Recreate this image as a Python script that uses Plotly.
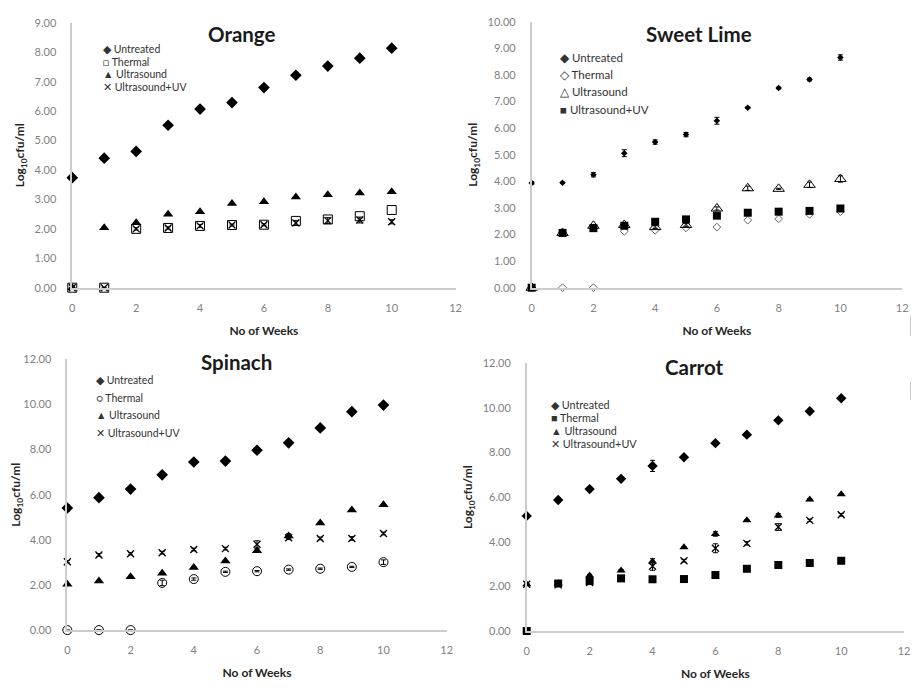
import plotly.graph_objects as go

weeks = list(range(11))

# ---- Orange ----
orange_untreated = [3.74, 4.40, 4.63, 5.52, 6.07, 6.29, 6.80, 7.22, 7.53, 7.80, 8.14]
orange_thermal = [0, 0, 2.00, 2.03, 2.10, 2.13, 2.14, 2.27, 2.32, 2.43, 2.64]
orange_ultrasound = [0, 2.04, 2.21, 2.50, 2.58, 2.86, 2.92, 3.08, 3.16, 3.22, 3.26]
orange_us_uv = [0, 0, 2.00, 2.03, 2.10, 2.13, 2.14, 2.20, 2.28, 2.30, 2.24]
orange_us_uv_err = [0, 0, 0.04, 0.04, 0.05, 0.03, 0.03, 0.08, 0.10, 0.10, 0.07]

# ---- Sweet Lime ----
lime_untreated = [3.94, 3.95, 4.25, 5.06, 5.48, 5.76, 6.28, 6.77, 7.51, 7.83, 8.66]
lime_untreated_err = [0.06, 0.02, 0.08, 0.13, 0.08, 0.08, 0.13, 0.03, 0.03, 0.05, 0.10]
lime_thermal = [0, 0, 0, 2.12, 2.16, 2.25, 2.28, 2.54, 2.59, 2.76, 2.86]
lime_ultrasound = [0, 2.06, 2.33, 2.36, 2.28, 2.36, 2.98, 3.74, 3.72, 3.87, 4.09]
lime_ultrasound_err = [0, 0.03, 0.05, 0.05, 0.05, 0.05, 0.06, 0.08, 0.02, 0.10, 0.12]
lime_us_uv = [0, 2.06, 2.24, 2.33, 2.48, 2.57, 2.71, 2.82, 2.86, 2.89, 2.98]

# ---- Spinach ----
spinach_untreated = [5.41, 5.87, 6.25, 6.88, 7.45, 7.49, 7.97, 8.30, 8.96, 9.68, 9.97]
spinach_untreated_err = [0.15, 0.04, 0.04, 0.08, 0.04, 0.04, 0.10, 0.04, 0.04, 0.04, 0.04]
spinach_thermal = [0, 0, 0, 2.09, 2.26, 2.58, 2.61, 2.68, 2.72, 2.80, 3.01]
spinach_thermal_err = [0, 0, 0, 0.12, 0.05, 0.03, 0.03, 0.03, 0.03, 0.03, 0.10]
spinach_ultrasound = [2.03, 2.17, 2.36, 2.52, 2.77, 3.06, 3.52, 4.17, 4.75, 5.32, 5.55]
spinach_ultrasound_err = [0.03, 0.03, 0.03, 0.03, 0.03, 0.03, 0.08, 0.10, 0.03, 0.03, 0.03]
spinach_us_uv = [3.03, 3.33, 3.38, 3.43, 3.57, 3.61, 3.80, 4.09, 4.06, 4.06, 4.28]
spinach_us_uv_err = [0.05, 0.06, 0.05, 0.06, 0.06, 0.06, 0.16, 0.08, 0.06, 0.08, 0.06]

# ---- Carrot ----
carrot_untreated = [5.16, 5.87, 6.36, 6.82, 7.40, 7.79, 8.42, 8.80, 9.44, 9.85, 10.43]
carrot_untreated_err = [0.04, 0.10, 0.06, 0.04, 0.25, 0.04, 0.04, 0.04, 0.04, 0.04, 0.04]
carrot_thermal = [0, 2.13, 2.24, 2.36, 2.32, 2.33, 2.51, 2.79, 2.96, 3.05, 3.15]
carrot_thermal_err = [0, 0.03, 0.03, 0.05, 0.03, 0.10, 0.03, 0.03, 0.03, 0.03, 0.03]
carrot_ultrasound = [2.10, 2.14, 2.49, 2.71, 3.12, 3.75, 4.35, 4.96, 5.18, 5.89, 6.13]
carrot_ultrasound_err = [0.03, 0.03, 0.05, 0.05, 0.12, 0.03, 0.10, 0.03, 0.08, 0.05, 0.03]
carrot_us_uv = [2.10, 2.07, 2.17, 2.36, 2.90, 3.15, 3.71, 3.93, 4.66, 4.96, 5.21]
carrot_us_uv_err = [0.03, 0.05, 0.05, 0.05, 0.18, 0.06, 0.20, 0.08, 0.15, 0.06, 0.06]

series_names = ["Untreated", "Thermal", "Ultrasound", "Ultrasound+UV"]
panel_titles = ["Orange", "Sweet Lime", "Spinach", "Carrot"]
y_max = [9, 10, 12, 12]
y_dtick = [1, 1, 2, 2]
x_ticks = [0, 2, 4, 6, 8, 10, 12]

# the page body has an 8px default margin: shrink the figure and shift by it
OFF = 8
W, H = 919 - OFF, 691 - OFF
FONT = "Lato"


def px_x(p):
    return (p - OFF) / W


def px_y(p):
    return 1 - (p - OFF) / H


# (left, right, top, bottom) pixel boxes of each plot area in the window
boxes = [(68, 456, 16, 286), (533, 908, 15, 286), (63, 447, 359, 635), (528, 910, 363, 636)]

panels = [
    [  # Orange
        (orange_untreated, None, "diamond", 9, "black"),
        (orange_thermal, None, "square-open", 9, "black"),
        (orange_ultrasound, None, "triangle-up", 9, "black"),
        (orange_us_uv, orange_us_uv_err, "x-thin-open", 7, "black"),
    ],
    [  # Sweet lime
        (lime_untreated, lime_untreated_err, "diamond", 5, "black"),
        (lime_thermal, None, "diamond-open", 6, "#666666"),
        (lime_ultrasound, lime_ultrasound_err, "triangle-up-open", 10, "black"),
        (lime_us_uv, None, "square", 8, "black"),
    ],
    [  # Spinach
        (spinach_untreated, spinach_untreated_err, "diamond", 9, "black"),
        (spinach_thermal, spinach_thermal_err, "circle-open", 9, "black"),
        (spinach_ultrasound, spinach_ultrasound_err, "triangle-up", 9, "black"),
        (spinach_us_uv, spinach_us_uv_err, "x-thin-open", 7, "black"),
    ],
    [  # Carrot
        (carrot_untreated, carrot_untreated_err, "diamond", 8, "black"),
        (carrot_thermal, carrot_thermal_err, "square", 8, "black"),
        (carrot_ultrasound, carrot_ultrasound_err, "triangle-up", 8, "black"),
        (carrot_us_uv, carrot_us_uv_err, "x-thin-open", 7, "black"),
    ],
]

legend_glyphs = [
    ["◆", "□", "▲", "✕"],
    ["◆", "◇", "△", "■"],
    ["◆", "○", "▲", "✕"],
    ["◆", "■", "▲", "✕"],
]
# legend placement: left px, first-line y px, line spacing px, font size
legend_layout = [
    (97, 43, 12.7, 10.5),
    (560, 51, 17.7, 11.5),
    (90, 380, 18, 10.5),
    (551, 405, 13.4, 10.8),
]
title_centers = [(240, 27), (702, 27), (234, 362), (698, 367)]

fig = go.Figure()
layout_axes = {}
annotations = []

for i, (series, box) in enumerate(zip(panels, boxes)):
    n = "" if i == 0 else str(i + 1)
    xa, ya = "x" + n, "y" + n
    for name, (vals, err, sym, size, col) in zip(series_names, series):
        marker = dict(symbol=sym, size=size, color=col)
        if sym.startswith("x-thin"):
            marker["line"] = dict(color=col, width=1.3)
        elif sym.endswith("-open"):
            marker["line"] = dict(color=col, width=1)
        tr = go.Scatter(
            x=weeks, y=vals, mode="markers", name=name, marker=marker,
            xaxis=xa, yaxis=ya, showlegend=False, cliponaxis=False,
        )
        if err is not None:
            tr.error_y = dict(type="data", array=err, visible=True,
                              color="black", thickness=1, width=2.5)
        fig.add_trace(tr)

    l, r, t, b = box
    layout_axes["xaxis" + n] = dict(
        domain=[px_x(l), px_x(r)], range=[0, 12], tickvals=x_ticks,
        anchor=ya, showline=True, linecolor="#cccccc", linewidth=1.5,
        showgrid=False, zeroline=False, ticks="", ticklabelstandoff=9,
        tickfont=dict(size=11, color="#7f7f7f", family=FONT),
        title=dict(text="<b>No of Weeks</b>", standoff=14,
                   font=dict(size=12, color="#262626", family=FONT)),
    )
    layout_axes["yaxis" + n] = dict(
        domain=[px_y(b), px_y(t)], range=[0, y_max[i]], dtick=y_dtick[i],
        tickformat=".2f", anchor=xa, showline=True, linecolor="#cccccc",
        linewidth=1.5, showgrid=False, zeroline=False, ticks="",
        ticklabelstandoff=12,
        tickfont=dict(size=11, color="#7f7f7f", family=FONT),
        title=dict(text="<b>Log<sub>10</sub>cfu/ml</b>", standoff=7,
                   font=dict(size=12, color="#262626", family=FONT)),
    )

    cx, cy = title_centers[i]
    annotations.append(dict(
        text="<b>" + panel_titles[i] + "</b>", x=px_x(cx), y=px_y(cy),
        xref="paper", yref="paper", showarrow=False, xanchor="center",
        yanchor="middle", font=dict(size=20.5, color="#1a1a1a", family=FONT),
    ))

    lx, ly, step, fs = legend_layout[i]
    for k, name in enumerate(series_names):
        annotations.append(dict(
            text=legend_glyphs[i][k] + " " + name,
            x=px_x(lx), y=px_y(ly + k * step), xref="paper", yref="paper",
            showarrow=False, xanchor="left", yanchor="middle",
            font=dict(size=fs, color="#333333", family=FONT),
        ))

# faint scan artefacts at the right edge of the page
shapes = [
    dict(type="line", xref="paper", yref="paper", x0=px_x(917), x1=px_x(917),
         y0=px_y(335), y1=px_y(315), line=dict(color="#c8c8c8", width=2)),
    dict(type="line", xref="paper", yref="paper", x0=px_x(917), x1=px_x(917),
         y0=px_y(400), y1=px_y(382), line=dict(color="#c8c8c8", width=2)),
]

fig.update_layout(
    width=W, height=H, margin=dict(l=0, r=0, t=0, b=0),
    paper_bgcolor="white", plot_bgcolor="white",
    font=dict(family=FONT), annotations=annotations, shapes=shapes,
    **layout_axes,
)

fig.write_html("out.html")
